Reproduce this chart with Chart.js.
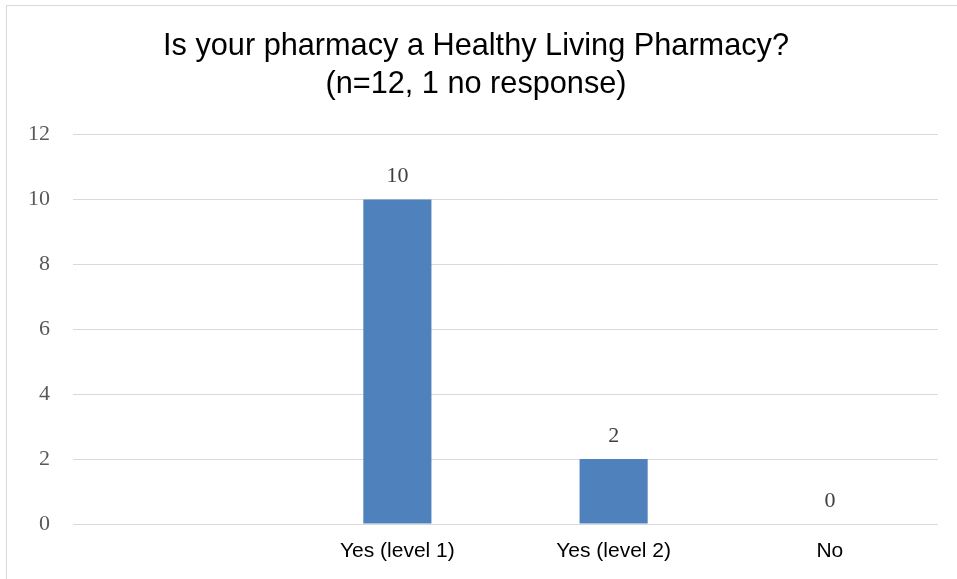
<!DOCTYPE html>
<html>
<head>
<meta charset="utf-8">
<script src="https://cdn.jsdelivr.net/npm/chart.js@4/dist/chart.umd.min.js"></script>
<style>
  html, body { margin: 0; padding: 0; background: #fff; overflow: hidden; }
  #frame { position: absolute; left: 6px; top: 5px; width: 1000px; height: 1000px; border: 1px solid #d9d9d9; }
  #wrap { position: absolute; left: 0; top: 0; width: 957px; height: 579px; }
</style>
</head>
<body>
<div id="frame"></div>
<div id="wrap"><canvas id="chart"></canvas></div>
<script>
const categories = ["", "Yes (level 1)", "Yes (level 2)", "No"];
const responses = [null, 10, 2, 0];
const yTicks = [0, 2, 4, 6, 8, 10, 12];
const titleLines = ["Is your pharmacy a Healthy Living Pharmacy?", "(n=12, 1 no response)"];

// draws the number above each bar
const valueLabels = {
  id: "valueLabels",
  afterDatasetsDraw(chart) {
    const ctx = chart.ctx;
    const meta = chart.getDatasetMeta(0);
    ctx.save();
    ctx.font = "22px 'Liberation Serif', 'DejaVu Serif', serif";
    ctx.fillStyle = "#404040";
    ctx.textAlign = "center";
    ctx.textBaseline = "alphabetic";
    meta.data.forEach((bar, i) => {
      const v = responses[i];
      if (v === null) return;
      ctx.fillText(String(v), bar.x, bar.y - 17);
    });
    ctx.restore();
  }
};

new Chart(document.getElementById("chart"), {
  type: "bar",
  data: {
    labels: categories,
    datasets: [{
      data: responses,
      backgroundColor: "#4f81bd",
      borderWidth: 0,
      barPercentage: 0.315,
      categoryPercentage: 1
    }]
  },
  options: {
    responsive: true,
    maintainAspectRatio: false,
    animation: false,
    layout: { padding: { left: 14, right: 19, top: 1, bottom: 0 } },
    plugins: {
      legend: { display: false },
      tooltip: { enabled: false },
      title: {
        display: true,
        text: titleLines,
        color: "#000",
        font: { family: "'Liberation Sans', Arial, sans-serif", size: 30.7, weight: "normal", lineHeight: 1.23 },
        padding: { top: 27, bottom: 31 }
      }
    },
    scales: {
      x: {
        grid: { display: false, drawTicks: false },
        border: { display: false },
        ticks: {
          color: "#000",
          padding: 17,
          maxRotation: 0,
          font: { family: "'Liberation Sans', Arial, sans-serif", size: 21, lineHeight: 1.0 }
        }
      },
      y: {
        min: 0,
        max: 12,
        afterBuildTicks: (axis) => { axis.ticks = yTicks.map((v) => ({ value: v })); },
        afterFit: (axis) => { axis.width = 59; },
        grid: { color: "#d9d9d9", lineWidth: 1, drawTicks: false },
        border: { display: false },
        ticks: {
          color: "#595959",
          padding: 23,
          font: { family: "'Liberation Serif', 'DejaVu Serif', serif", size: 22 }
        }
      }
    }
  },
  plugins: [valueLabels]
});
</script>
</body>
</html>
